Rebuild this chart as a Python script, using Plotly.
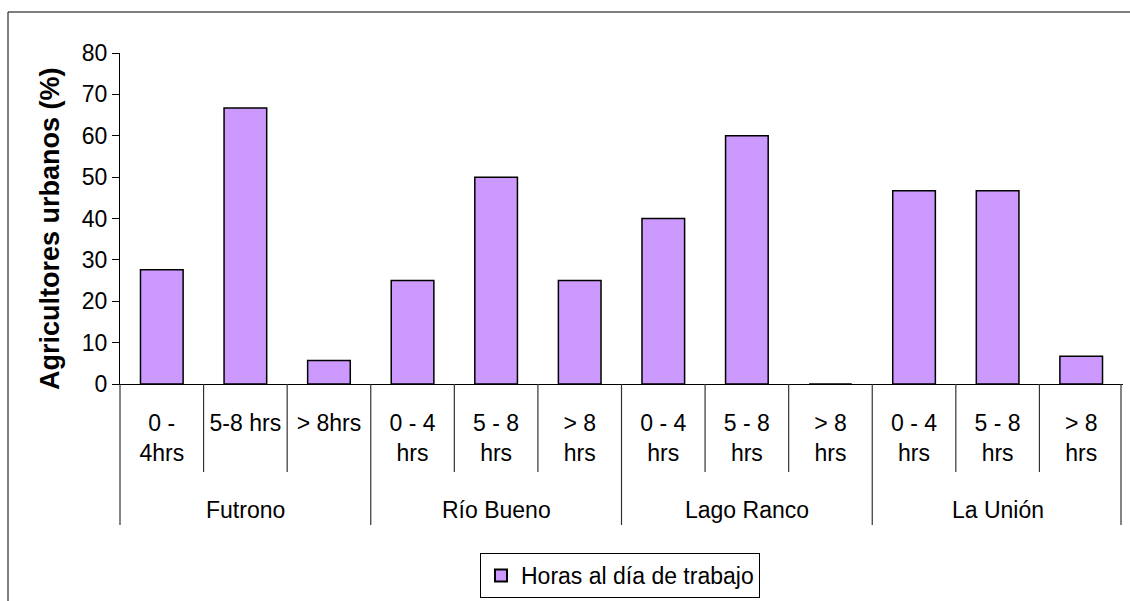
import plotly.graph_objects as go

# datos
municipios = ["Futrono", "Río Bueno", "Lago Ranco", "La Unión"]
rangos = [
    ["0 -<br>4hrs", "5-8 hrs", "> 8hrs"],
    ["0 - 4<br>hrs", "5 - 8<br>hrs", "> 8<br>hrs"],
    ["0 - 4<br>hrs", "5 - 8<br>hrs", "> 8<br>hrs"],
    ["0 - 4<br>hrs", "5 - 8<br>hrs", "> 8<br>hrs"],
]
futrono = [27.6, 66.7, 5.7]
rio_bueno = [25, 50, 25]
lago_ranco = [40, 60, 0]
la_union = [46.7, 46.7, 6.7]

valores = futrono + rio_bueno + lago_ranco + la_union
etiquetas = [r for grupo in rangos for r in grupo]
idx = list(range(len(valores)))
n = len(valores)

W, H = 1130, 601
L, R, T, B = 120, 7, 53, 217
PW, PH = W - L - R, H - T - B

def py(pix):
    """pixel vertical -> coordenada paper"""
    return (H - B - pix) / PH

def px(pix):
    return (pix - L) / PW

FONT = "Liberation Sans, Arial, sans-serif"

fig = go.Figure()
fig.add_trace(go.Bar(
    x=idx, y=valores,
    name="Horas al día de trabajo",
    marker=dict(color="#CC99FF", line=dict(color="black", width=1.5)),
))

# divisores del eje de categorías (uno por límite de categoría)
shapes = []
for k in range(n + 1):
    largo = 525 if k % 3 == 0 else 472
    xk = min(k / n, 0.998)
    shapes.append(dict(type="line", xref="paper", yref="paper",
                       x0=xk, x1=xk, y0=0, y1=py(largo),
                       line=dict(color="#333333", width=1.2)))
# borde exterior
shapes.append(dict(type="rect", xref="paper", yref="paper",
                   x0=px(8), x1=px(1140), y0=py(12), y1=py(610),
                   line=dict(color="black", width=1)))

annotations = []
for g, nombre in enumerate(municipios):
    annotations.append(dict(text=nombre, xref="x", yref="paper",
                            x=g * 3 + 1, y=py(510), yanchor="middle",
                            showarrow=False,
                            font=dict(size=23, color="black")))
annotations.append(dict(text="<b>Agricultores urbanos (%)</b>",
                        xref="paper", yref="paper", x=px(50), y=py(229),
                        xanchor="center", yanchor="middle", textangle=-90,
                        showarrow=False, font=dict(size=27, color="black")))

fig.update_layout(
    width=W, height=H,
    margin=dict(l=L, r=R, t=T, b=B, autoexpand=False),
    paper_bgcolor="white", plot_bgcolor="white",
    font=dict(family=FONT, size=23, color="black"),
    bargap=0.49,
    shapes=shapes,
    annotations=annotations,
    showlegend=True,
    legend=dict(x=px(620), xanchor="center", y=py(553), yanchor="top",
                bordercolor="black", borderwidth=1,
                font=dict(size=23), itemsizing="constant"),
    xaxis=dict(range=[-0.5, n - 0.5], tickvals=idx, ticktext=etiquetas,
               ticks="", showline=True, linecolor="black", linewidth=1,
               ticklabelstandoff=18, tickangle=0, showgrid=False,
               zeroline=False, fixedrange=True),
    yaxis=dict(range=[0, 80], dtick=10, ticks="outside", ticklen=7,
               tickcolor="black", showline=True, linecolor="black",
               linewidth=1, showgrid=False, zeroline=False),
)

fig.write_html("out.html", config={"displayModeBar": False},
               post_script="document.body.style.margin='0';")
